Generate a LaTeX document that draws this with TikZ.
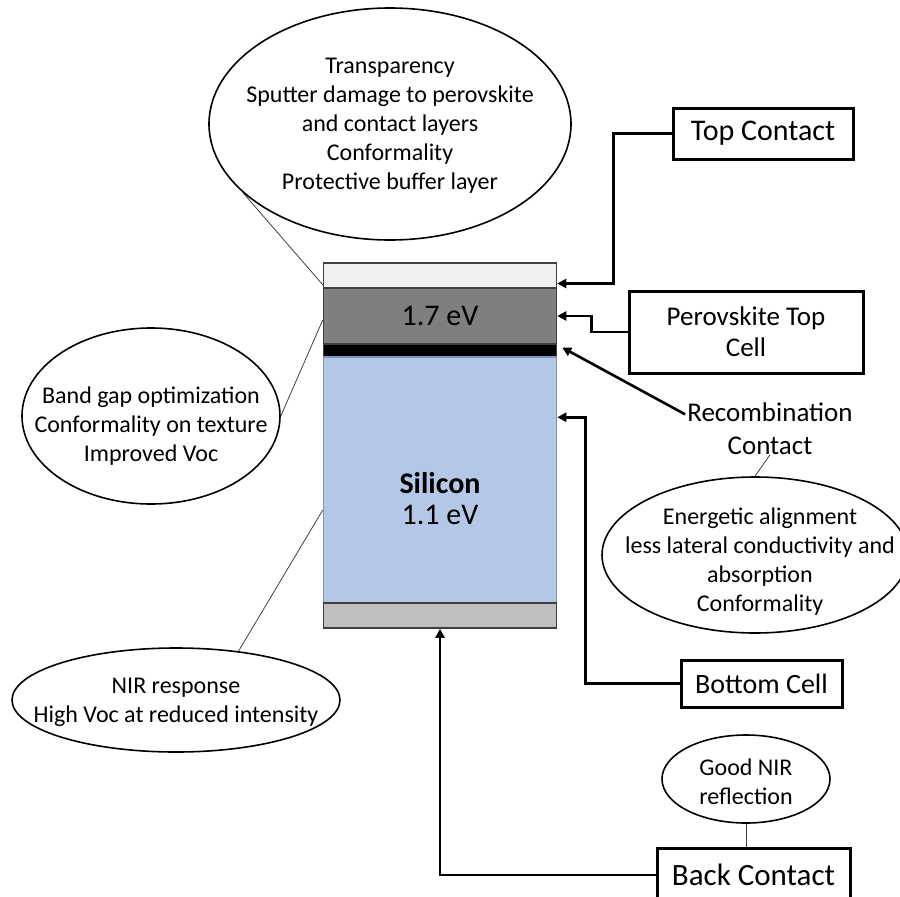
\documentclass[tikz,border=0pt]{standalone}
\usepackage{fontspec}
\setmainfont{Carlito}
\usetikzlibrary{arrows.meta,positioning,shapes.geometric,calc}
\definecolor{tcogray}{HTML}{EFEFEF}
\definecolor{pvkgray}{HTML}{7F7F7F}
\definecolor{siblue}{HTML}{B4C7E7}
\definecolor{siedge}{HTML}{7E93B9}
\definecolor{backgray}{HTML}{BFBFBF}
\definecolor{edgegray}{HTML}{404040}

\begin{document}
\begin{tikzpicture}[x=1pt,y=-1pt,
    every node/.style={font=\fontsize{24}{29}\selectfont},
    layer/.style={draw=edgegray,line width=1.5pt,minimum width=233pt,inner sep=0pt},
    note/.style={ellipse,draw,line width=1.6pt,inner sep=0pt},
    feed/.style={line width=2.6pt,-{Triangle[length=9pt,width=9pt]}},
    pin/.style={line width=0.8pt,draw=black!75}]
  \tikzstyle{labelbox}=[draw,line width=3pt,inner sep=0pt,align=center,font=\fontsize{27}{31}\selectfont]
  \tikzstyle{notetext}=[inner sep=0pt,align=center]
  \useasboundingbox (0,0) rectangle (900,897);

  % Layers
  \node[layer, fill=tcogray, minimum height=25pt] (tco) at (440,275.5) {};
  \node[layer, fill=pvkgray, minimum height=56pt, font=\fontsize{30}{36}\selectfont] (pvk) at (440,316) {1.7 eV};
  \node[layer, fill=black, minimum height=13pt] (rec) at (440,350.5) {};
  \node[layer, fill=siblue, draw=siedge, minimum height=246pt] (si) at (440,480) {};
  \node[layer, fill=backgray, minimum height=25pt] (bot) at (440,615.5) {};
  \node[notetext, font=\fontsize{30}{31}\selectfont] (sitxt) at (440,499) {\textbf{Silicon}\\1.1 eV};

  % Boxes
  \node[labelbox, minimum width=180pt, minimum height=51pt, font=\fontsize{30}{36}\selectfont] (tcbox) at (763,133.5) {Top Contact};
  \node[labelbox, minimum width=234pt, minimum height=82pt] (pvbox) at (746,332) {Perovskite Top\\Cell};
  \node[notetext, font=\fontsize{27}{33}\selectfont] (recl) at (770,428.5) {Recombination\\Contact};
  \node[labelbox, minimum width=161pt, minimum height=47pt, font=\fontsize{28}{34}\selectfont] (bcbox) at (761.5,683.5) {Bottom Cell};
  \node[labelbox, minimum width=193pt, minimum height=54pt, font=\fontsize{31}{37}\selectfont] (bkbox) at (753.5,875) {Back Contact};

  % Notes
  \node[note, minimum width=362pt, minimum height=232pt] (topnote) at (390,124) {};
  \node[notetext] (topnotetxt) at (390,126) {Transparency\\Sputter damage to perovskite\\and contact layers\\Conformality\\Protective buffer layer};
  \node[note, minimum width=258pt, minimum height=176pt] (gapnote) at (151,416) {};
  \node[notetext] (gapnotetxt) at (151,426) {Band gap optimization\\Conformality on texture\\Improved Voc};
  \node[note, minimum width=328pt, minimum height=104pt] (nirnote) at (176,700) {};
  \node[notetext] (nirnotetxt) at (176,702) {NIR response\\High Voc at reduced intensity};
  \node[note, minimum width=306pt, minimum height=156pt] (recnote) at (755,555) {};
  \node[notetext] (recnotetxt) at (760,562) {Energetic alignment\\less lateral conductivity and\\absorption\\Conformality};
  \node[note, minimum width=168pt, minimum height=88pt] (refnote) at (746,779) {};
  \node[notetext] (refnotetxt) at (746,782) {Good NIR\\reflection};

  % Connectors
  \draw[feed] (tcbox.west) -- ++(-58,0) |- ($(tco.east)+(0,8)$);
  \draw[feed] (pvbox.west) -- ++(-36,0) |- (pvk.east);
  \draw[feed] ($(recl.north west)+(-2,12)$) -- ($(rec.east)+(5,-3)$);
  \draw[feed] (bcbox.west) -- ++(-94,0) |- ($(si.north east)+(0,61)$);
  \draw[feed] (bkbox.west) -| (bot.south);

  \draw[pin] (topnote.205) -- ($(tco.south west)+(0,-4)$);
  \draw[pin] (gapnote.east) -- ($(pvk.west)+(0,4)$);
  \draw[pin] (nirnote.38) -- ($(si.west)+(0,30)$);
  \draw[pin] (recl.south) -- (recnote.north);
  \draw[pin] (refnote.south) -- (refnote.south |- bkbox.north);
\end{tikzpicture}
\end{document}
